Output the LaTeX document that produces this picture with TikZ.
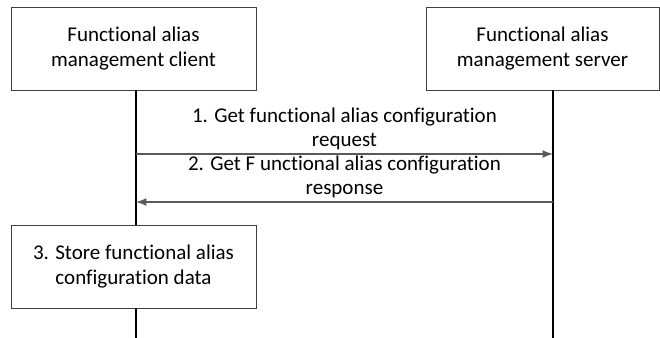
\documentclass[tikz,border=0pt]{standalone}
\usepackage{fontspec}
\setmainfont{Carlito}[Ligatures=NoCommon]
\begin{document}
\begin{tikzpicture}[x=0.5pt,y=-0.5pt,font=\fontsize{10.5}{12.2}\selectfont]
\tikzset{
  entity/.style={draw=black!75,line width=0.5pt,align=center,inner sep=0pt},
  lifeline/.style={line width=0.9pt},
  msg/.style={draw=black!65,line width=0.8pt,-latex},
  msglabel/.style={align=center,inner sep=1.5pt,above}
}
\useasboundingbox (0,0) rectangle (660,338);

% entities
\node[entity,minimum width=122.5pt,minimum height=41.5pt] (client) at (133.5,48.5) {Functional alias\\management client};
\node[entity,minimum width=116.5pt,minimum height=41.5pt] (server) at (542.5,48.5) {Functional alias\\management server};
\node[entity,minimum width=122.5pt,minimum height=41.5pt] (store) at (133.5,266.5) {3. Store functional alias\\configuration data};

% lifelines
\coordinate (c1) at (136,90);
\coordinate (c2) at (136,225);
\coordinate (c3) at (136,308);
\coordinate (c4) at (136,338);
\coordinate (s1) at (553,90);
\coordinate (s2) at (553,338);
\draw[lifeline] (c1) -- (c2);
\draw[lifeline] (c3) -- (c4);
\draw[lifeline] (s1) -- (s2);

% messages
\coordinate (req1) at (136,154);
\coordinate (req2) at (553,154);
\coordinate (res1) at (553,202);
\coordinate (res2) at (136,202);
\draw[msg] (req1) -- node[msglabel,draw=none] (reqlabel) {1. Get functional alias configuration\\request} (req2);
\draw[msg] (res1) -- node[msglabel,draw=none] (reslabel) {2. Get F unctional alias configuration\\response} (res2);
\end{tikzpicture}
\end{document}
